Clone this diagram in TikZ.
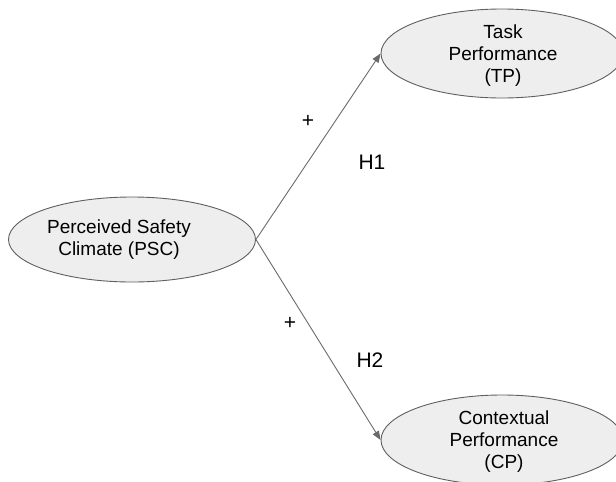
\documentclass[tikz,border=0pt]{standalone}
\usepackage{fontspec}
\setmainfont{Liberation Sans}
\usetikzlibrary{shapes.geometric,arrows.meta}
\definecolor{efill}{HTML}{EEEEEE}
\definecolor{edraw}{HTML}{5F5F5F}
\definecolor{lcol}{HTML}{6A6A6A}
\begin{document}
\begin{tikzpicture}[x=1pt,y=-1pt,
  construct/.style={ellipse,draw=edraw,fill=efill,line width=0.9pt,inner sep=0pt},
  ctext/.style={align=center,font=\fontsize{19}{22}\selectfont,inner sep=0pt},
  hyp/.style={font=\fontsize{21}{24}\selectfont,inner sep=0pt},
  link/.style={draw=lcol,line width=0.9pt,-{Triangle[length=9pt,width=7pt]}}]
\useasboundingbox (0,0) rectangle (616,482);
\begin{scope}
\clip (0,0) rectangle (616,482);
\node[construct,minimum width=247pt,minimum height=85pt] (psc) at (132,239.5) {};
\node[construct,minimum width=242pt,minimum height=89pt] (tp) at (502,53.5) {};
\node[construct,minimum width=242pt,minimum height=90pt] (cp) at (502,440) {};
\end{scope}
\node[ctext] (psct) at (119,240) {Perceived Safety\\Climate (PSC)};
\node[ctext] (tpt) at (503,56) {Task\\Performance\\(TP)};
\node[ctext] (cpt) at (504,442) {Contextual\\Performance\\(CP)};
\draw[link] (psc.east) -- (tp.west);
\draw[link] (psc.east) -- (cp.west);
\node[hyp] (p1) at (308,121) {+};
\node[hyp] (h1) at (372,162) {H1};
\node[hyp] (p2) at (290,323) {+};
\node[hyp] (h2) at (370,360) {H2};
\end{tikzpicture}
\end{document}
